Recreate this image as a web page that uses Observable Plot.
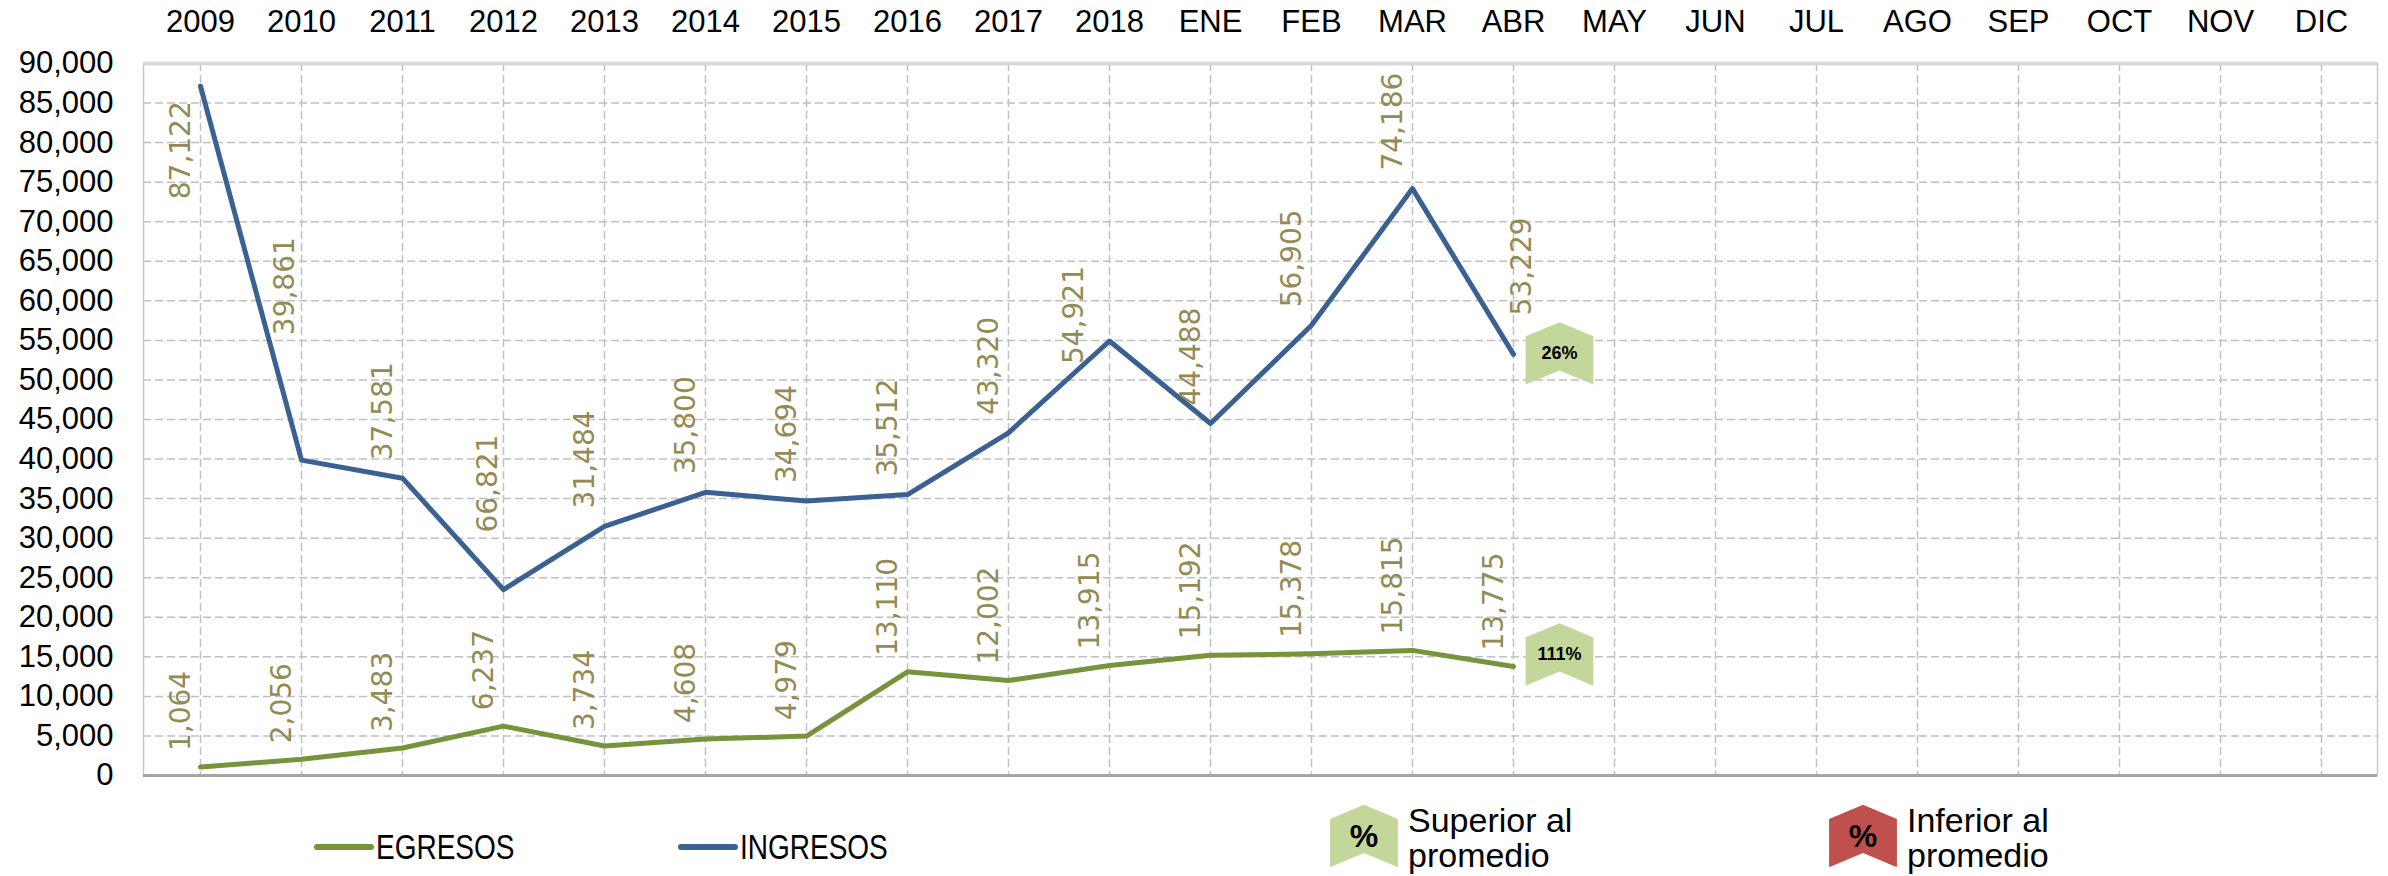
<!DOCTYPE html>
<html><head><meta charset="utf-8">
<script src="https://cdn.jsdelivr.net/npm/d3@7"></script>
<script src="https://cdn.jsdelivr.net/npm/@observablehq/plot@0.6"></script>
<style>
html,body{margin:0;padding:0;background:#fff}
body{width:2388px;height:876px;overflow:hidden;font-family:"Liberation Sans",Arial,sans-serif}
#chart svg{display:block}
#legend{display:block}
</style></head><body>
<div id="chart"></div>
<svg id="legend" width="2388" height="80"></svg>
<script>
// ---- data ----
const categories = ["2009","2010","2011","2012","2013","2014","2015","2016","2017","2018",
  "ENE","FEB","MAR","ABR","MAY","JUN","JUL","AGO","SEP","OCT","NOV","DIC"];
const ingresos = [87122, 39861, 37581, 23500, 31484, 35800, 34694, 35512, 43320, 54921, 44488, 56905, 74186, 53229];
const ingresosLabels = ["87,122","39,861","37,581","66,821","31,484","35,800","34,694","35,512","43,320","54,921","44,488","56,905","74,186","53,229"];
const egresos = [1064, 2056, 3483, 6237, 3734, 4608, 4979, 13110, 12002, 13915, 15192, 15378, 15815, 13775];
const egresosLabels = ["1,064","2,056","3,483","6,237","3,734","4,608","4,979","13,110","12,002","13,915","15,192","15,378","15,815","13,775"];
const yTicks = [0,5000,10000,15000,20000,25000,30000,35000,40000,45000,50000,55000,60000,65000,70000,75000,80000,85000,90000];
const ingresosBadge = "26%";
const egresosBadge = "111%";
const legendSeries = ["EGRESOS","INGRESOS"];
const legendBadges = [["Superior al","promedio"],["Inferior al","promedio"]];

// ---- styles / layout ----
const BLUE = "#3A6192", GREEN = "#77933C", LABEL = "#948A54";
const BADGE_GREEN = "#C4D79B", BADGE_RED = "#C0504D";
const GRID = "#c0c0c0";
// manual placement of a few INGRESOS value labels (as moved in the original)
const ingresosLabelNudge = [
  {cat: "2009", dx: -19, dy: 15, anchor: "end"},
  {cat: "2010", dx: -16, dy: -125},
  {cat: "2012", dx: -15, dy: -57},
  {cat: "2018", dx: -35, dy: 23},
  {cat: "ABR", dx: 9, dy: -39}
];

const ing = ingresos.map((v,i)=>({cat:categories[i], value:v, label:ingresosLabels[i]}));
const egr = egresos.map((v,i)=>({cat:categories[i], value:v, label:egresosLabels[i]}));
const yMax = yTicks[yTicks.length-1];
const nudged = new Set(ingresosLabelNudge.map(n => n.cat));

const chevron = {draw(ctx, size){
  const r = Math.sqrt(size/Math.PI);
  const hw = 1.13*r, hh = 1.04*r, n = 0.47*r;
  ctx.moveTo(0,-hh); ctx.lineTo(hw,-hh+n); ctx.lineTo(hw,hh); ctx.lineTo(0,hh-n);
  ctx.lineTo(-hw,hh); ctx.lineTo(-hw,-hh+n); ctx.closePath();
}};

const labelStyle = {x: "cat", y: "value", text: "label", fill: LABEL, fontSize: 28, fontFamily: "DejaVu Sans", rotate: -90};

const chart = Plot.plot({
  width: 2388, height: 796,
  marginLeft: 143, marginRight: 11, marginTop: 63, marginBottom: 21,
  style: {fontFamily: "Liberation Sans", fontSize: "31px", color: "#000", background: "#fff"},
  x: {type: "point", domain: categories, padding: 0.5, axis: "top", tickSize: 0, tickPadding: 32, label: null},
  y: {domain: [0, yMax], ticks: yTicks, tickFormat: d3.format(","), tickSize: 0, tickPadding: 30, label: null},
  marks: [
    Plot.ruleY(yTicks.filter(t => t > 0 && t < yMax), {stroke: GRID, strokeWidth: 1.5, strokeDasharray: "8,4"}),
    Plot.ruleX(categories, {stroke: GRID, strokeWidth: 1.5, strokeDasharray: "8,4"}),
    Plot.frame({stroke: "#c8c8c8", strokeWidth: 1.5}),
    Plot.ruleY([yMax], {stroke: "#d9d9d9", strokeWidth: 4}),
    Plot.ruleY([0], {stroke: "#a6a6a6", strokeWidth: 3}),
    Plot.line(egr, {x: "cat", y: "value", stroke: GREEN, strokeWidth: 5}),
    Plot.line(ing, {x: "cat", y: "value", stroke: BLUE, strokeWidth: 5}),
    Plot.text(egr, {...labelStyle, textAnchor: "start", dx: -19, dy: -16}),
    Plot.text(ing.filter(d => !nudged.has(d.cat)), {...labelStyle, textAnchor: "start", dx: -19, dy: -18}),
    ...ingresosLabelNudge.map(n => Plot.text(ing.filter(d => d.cat === n.cat),
      {...labelStyle, textAnchor: n.anchor || "start", dx: n.dx, dy: n.dy})),
    Plot.dot(ing.slice(-1), {x: "cat", y: "value", r: 30, symbol: chevron, fill: BADGE_GREEN, stroke: "none", dx: 46, dy: -1}),
    Plot.text(ing.slice(-1), {x: "cat", y: "value", text: () => ingresosBadge, dx: 46, dy: -1, fill: "#000", fontSize: 18, fontWeight: "bold", fontFamily: "Liberation Sans"}),
    Plot.dot(egr.slice(-1), {x: "cat", y: "value", r: 30, symbol: chevron, fill: BADGE_GREEN, stroke: "none", dx: 46, dy: -12}),
    Plot.text(egr.slice(-1), {x: "cat", y: "value", text: () => egresosBadge, dx: 46, dy: -12, fill: "#000", fontSize: 18, fontWeight: "bold", fontFamily: "Liberation Sans"})
  ]
});
document.getElementById("chart").append(chart);

// ---- legend (below the SVG; top of legend is y = 796 on the page) ----
const lg = d3.select("#legend");
const seriesItems = [{name: legendSeries[0], color: GREEN, x: 317}, {name: legendSeries[1], color: BLUE, x: 681}];
seriesItems.forEach(s => {
  lg.append("line").attr("x1", s.x).attr("x2", s.x + 54).attr("y1", 51).attr("y2", 51)
    .attr("stroke", s.color).attr("stroke-width", 6).attr("stroke-linecap", "round");
  lg.append("text").attr("transform", `translate(${s.x + 59},63) scale(0.8,1)`).attr("font-family", "Liberation Sans")
    .attr("font-size", 35).attr("fill", "#000").text(s.name);
});
const chevPath = d3.path(); chevron.draw(chevPath, 30*30*Math.PI);
const badgeItems = [{lines: legendBadges[0], color: BADGE_GREEN, x: 1364}, {lines: legendBadges[1], color: BADGE_RED, x: 1863}];
badgeItems.forEach(b => {
  lg.append("path").attr("d", chevPath.toString()).attr("transform", `translate(${b.x},40)`).attr("fill", b.color);
  lg.append("text").attr("x", b.x).attr("y", 51).attr("text-anchor", "middle").attr("font-weight", "bold")
    .attr("font-size", 32).attr("font-family", "Liberation Sans").attr("fill", "#000").text("%");
  b.lines.forEach((t, j) => lg.append("text").attr("x", b.x + 44).attr("y", 36 + 35*j)
    .attr("font-size", 34).attr("font-family", "Liberation Sans").attr("fill", "#000").text(t));
});
</script>
</body></html>
